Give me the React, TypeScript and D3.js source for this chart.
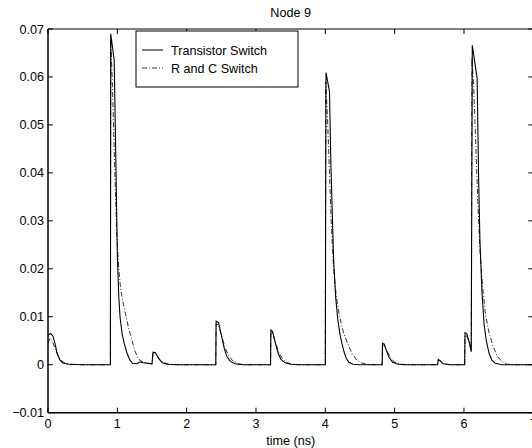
import React from "react";
import * as d3 from "d3";

const title = "Node 9";
const xLabel = "time (ns)";
const xTicks = [0, 1, 2, 3, 4, 5, 6, 7];
const yTicks = [-0.01, 0, 0.01, 0.02, 0.03, 0.04, 0.05, 0.06, 0.07];
const seriesNames = ["Transistor Switch", "R and C Switch"];

const transistorSwitch: [number, number][] = [
  [0, 0.0062], [0.04, 0.0065], [0.07, 0.006], [0.1, 0.0045], [0.13, 0.0025], [0.17, 0.001],
  [0.22, 0.0003], [0.3, 0.0001], [0.5, 0], [0.9, 0],
  [0.905, 0.069], [0.955, 0.0635], [0.977, 0.044], [1.0, 0.023], [1.02, 0.0145], [1.04, 0.0098],
  [1.07, 0.0064], [1.1, 0.0044], [1.14, 0.0024], [1.18, 0.001], [1.22, 0.0003], [1.28, 0.0002],
  [1.33, 0.0006], [1.37, 0.0004], [1.5, 0.0002], [1.515, 0.0026], [1.55, 0.0025], [1.6, 0.0012],
  [1.65, 0.0004], [1.72, 0.0001], [1.85, 0], [2.42, 0],
  [2.425, 0.0091], [2.46, 0.0088], [2.5, 0.0062], [2.54, 0.0035], [2.58, 0.0017], [2.63, 0.0007],
  [2.7, 0.0002], [2.8, 0], [3.21, 0],
  [3.215, 0.0072], [3.24, 0.0069], [3.28, 0.0045], [3.32, 0.0024], [3.36, 0.0011], [3.42, 0.0004],
  [3.5, 0.0001], [3.6, 0], [4.0, 0],
  [4.01, 0.0609], [4.06, 0.057], [4.08, 0.042], [4.12, 0.0218], [4.15, 0.014], [4.18, 0.0095],
  [4.21, 0.0065], [4.24, 0.0044], [4.27, 0.0027], [4.3, 0.0014], [4.34, 0.0005], [4.4, 0.0001],
  [4.5, 0], [4.82, 0],
  [4.825, 0.0045], [4.85, 0.0043], [4.88, 0.003], [4.92, 0.0015], [4.97, 0.0005], [5.05, 0.0001],
  [5.15, 0], [5.62, 0], [5.63, 0.0011], [5.66, 0.0008], [5.7, 0.0002], [5.8, 0], [6.01, 0],
  [6.015, 0.0067], [6.04, 0.0065], [6.08, 0.0045], [6.105, 0.0027],
  [6.12, 0.0666], [6.19, 0.0597], [6.21, 0.04], [6.23, 0.026], [6.26, 0.015], [6.29, 0.0085],
  [6.32, 0.0052], [6.36, 0.0025], [6.4, 0.001], [6.45, 0.0003], [6.55, 0], [7, 0],
];

const rcSwitch: [number, number][] = [
  [0, 0.0045], [0.03, 0.0055], [0.06, 0.005], [0.1, 0.0035], [0.14, 0.002], [0.19, 0.0009],
  [0.25, 0.0003], [0.35, 0.0001], [0.5, 0], [0.9, 0],
  [0.905, 0.068], [0.93, 0.058], [0.96, 0.042], [0.99, 0.028], [1.02, 0.02], [1.05, 0.0155],
  [1.09, 0.0125], [1.13, 0.0098], [1.17, 0.0072], [1.21, 0.0052], [1.25, 0.003], [1.3, 0.0013],
  [1.34, 0.0008], [1.38, 0.0005], [1.45, 0.0003], [1.5, 0.0002], [1.515, 0.0024], [1.55, 0.0023],
  [1.6, 0.0013], [1.66, 0.0005], [1.75, 0.0001], [1.9, 0], [2.42, 0],
  [2.425, 0.0085], [2.46, 0.0083], [2.5, 0.0062], [2.55, 0.0038], [2.6, 0.002], [2.66, 0.0009],
  [2.74, 0.0002], [2.85, 0], [3.21, 0],
  [3.215, 0.0068], [3.24, 0.0066], [3.28, 0.0046], [3.33, 0.0026], [3.38, 0.0013], [3.45, 0.0004],
  [3.55, 0.0001], [3.65, 0], [4.0, 0],
  [4.005, 0.059], [4.03, 0.052], [4.06, 0.04], [4.09, 0.028], [4.12, 0.02], [4.16, 0.014],
  [4.2, 0.0105], [4.26, 0.0068], [4.32, 0.0045], [4.38, 0.0025], [4.45, 0.001], [4.52, 0.0004],
  [4.6, 0.0001], [4.7, 0], [4.82, 0],
  [4.825, 0.0042], [4.85, 0.004], [4.89, 0.0029], [4.94, 0.0015], [5.0, 0.0005], [5.1, 0.0001],
  [5.2, 0], [5.62, 0], [5.63, 0.001], [5.66, 0.0008], [5.71, 0.0002], [5.8, 0], [6.01, 0],
  [6.015, 0.0062], [6.04, 0.006], [6.08, 0.0045], [6.105, 0.003],
  [6.115, 0.064], [6.14, 0.058], [6.17, 0.046], [6.2, 0.034], [6.23, 0.024], [6.27, 0.016],
  [6.31, 0.0105], [6.36, 0.0068], [6.42, 0.0038], [6.48, 0.0018], [6.55, 0.0006], [6.62, 0.0001],
  [6.7, 0], [7, 0],
];

const W = 532;
const H = 448;
const left = 48;
const right = 533.3;
const top = 29;
const bottom = 412.7;
const font = "'Liberation Sans', Arial, Helvetica, sans-serif";
const fs = 12.6;

export default function App() {
  const x = d3.scaleLinear().domain([0, 7]).range([left, right]);
  const y = d3.scaleLinear().domain([-0.01, 0.07]).range([bottom, top]);
  const line = d3
    .line<[number, number]>()
    .x((d) => x(d[0]))
    .y((d) => y(d[1]));
  const fmtY = (v: number) => (v < 0 ? "\u2212" + Math.abs(v).toFixed(2) : v === 0 ? "0" : v.toFixed(2));
  const tl = 5;
  return (
    <svg
      width={W}
      height={H}
      style={{ position: "absolute", left: 0, top: 0, background: "#fff" }}
      fontFamily={font}
    >
      <rect x={0} y={0} width={W} height={H} fill="#fff" />
      <defs>
        <clipPath id="plot">
          <rect x={left} y={top} width={right - left} height={bottom - top} />
        </clipPath>
      </defs>
      <g clipPath="url(#plot)">
        <path d={line(transistorSwitch) || ""} fill="none" stroke="#000" strokeWidth={1.1} />
        <path
          d={line(rcSwitch) || ""}
          fill="none"
          stroke="#000"
          strokeWidth={0.8}
          strokeDasharray="5,2,1,2"
        />
      </g>
      <line x1={left} x2={right} y1={top} y2={top} stroke="#000" strokeWidth={1} />
      <line x1={left} x2={right} y1={bottom} y2={bottom} stroke="#000" strokeWidth={1.5} />
      <line x1={left} x2={left} y1={top} y2={bottom} stroke="#000" strokeWidth={1.5} />
      <line x1={right} x2={right} y1={top} y2={bottom} stroke="#000" strokeWidth={1} />
      {xTicks.map((t) => (
        <g key={"x" + t}>
          <line x1={x(t)} x2={x(t)} y1={bottom} y2={bottom - tl} stroke="#000" strokeWidth={1} />
          <line x1={x(t)} x2={x(t)} y1={top} y2={top + tl} stroke="#000" strokeWidth={1} />
          <text x={x(t)} y={427.5} fontSize={fs} textAnchor="middle" fill="#000">
            {t}
          </text>
        </g>
      ))}
      {yTicks.map((v) => (
        <g key={"y" + v}>
          <line x1={left} x2={left + tl} y1={y(v)} y2={y(v)} stroke="#000" strokeWidth={1} />
          <line x1={right} x2={right - tl} y1={y(v)} y2={y(v)} stroke="#000" strokeWidth={1} />
          <text x={44} y={y(v) + 4.5} fontSize={fs} textAnchor="end" fill="#000">
            {fmtY(v)}
          </text>
        </g>
      ))}
      <text x={(left + right) / 2} y={16.5} fontSize={fs} textAnchor="middle" fill="#000">
        {title}
      </text>
      <text x={(left + right) / 2} y={444.5} fontSize={fs} textAnchor="middle" fill="#000">
        {xLabel}
      </text>
      <rect x={136} y={31} width={162} height={56} fill="#fff" stroke="#000" strokeWidth={1} />
      <line x1={142} x2={163} y1={50} y2={50} stroke="#000" strokeWidth={1} />
      <text x={171} y={54.5} fontSize={fs} fill="#000">
        {seriesNames[0]}
      </text>
      <line x1={142} x2={163} y1={68} y2={68} stroke="#000" strokeWidth={0.8} strokeDasharray="5,2,1,2" />
      <text x={171} y={72.5} fontSize={fs} fill="#000">
        {seriesNames[1]}
      </text>
    </svg>
  );
}
